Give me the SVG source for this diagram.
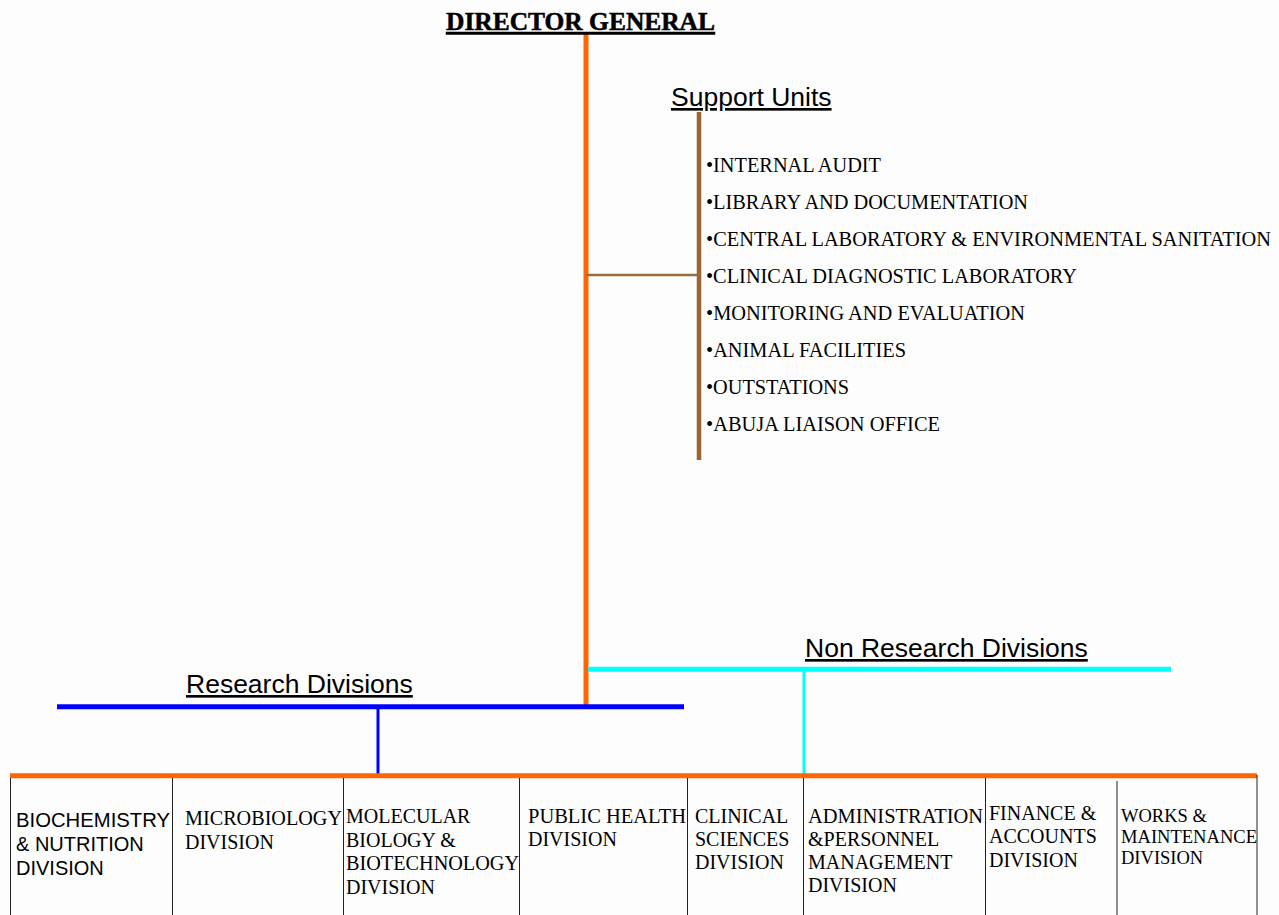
<svg xmlns="http://www.w3.org/2000/svg" width="1279" height="915" viewBox="0 0 1279 915">
<style>
.serif{font-family:"Liberation Serif","Times New Roman",serif;fill:#000}
.sans{font-family:"Liberation Sans",Arial,sans-serif;fill:#000}
.head{font-size:26.5px;text-decoration:underline}
.item{font-size:20px}
.cell{font-size:20px}
.div{stroke:#222;stroke-width:1;fill:none}
</style>
<rect width="1279" height="915" fill="#fdfdfd"/>
<g id="connectors" fill="none">
  <line x1="586" y1="32" x2="586" y2="705" stroke="#ff6600" stroke-width="5"/>
  <line x1="586" y1="275" x2="698" y2="275" stroke="#9a6c40" stroke-width="2.5"/>
  <line x1="699" y1="112" x2="699" y2="460" stroke="#996633" stroke-width="4.5"/>
  <line x1="588" y1="669.3" x2="1171" y2="669.3" stroke="#00ffff" stroke-width="5"/>
  <line x1="804" y1="669" x2="804" y2="774" stroke="#00ffff" stroke-width="3"/>
  <line x1="57" y1="706.8" x2="684" y2="706.8" stroke="#0000ff" stroke-width="5"/>
  <line x1="378" y1="707" x2="378" y2="774" stroke="#0000ff" stroke-width="3"/>
  <line x1="10" y1="775.8" x2="1257" y2="775.8" stroke="#ff6600" stroke-width="5"/>
</g>
<g id="director">
  <text class="serif" x="446" y="30" font-size="25" font-weight="bold" text-decoration="underline" textLength="269" lengthAdjust="spacingAndGlyphs" stroke="#000" stroke-width="0.5">DIRECTOR GENERAL</text>
</g>
<g id="support-units">
  <text class="sans head" x="671" y="106">Support Units</text>
  <g class="serif item">
    <text x="706" y="171.5" textLength="175" lengthAdjust="spacingAndGlyphs">•INTERNAL AUDIT</text>
    <text x="706" y="208.5" textLength="322" lengthAdjust="spacingAndGlyphs">•LIBRARY AND DOCUMENTATION</text>
    <text x="706" y="245.5" textLength="565" lengthAdjust="spacingAndGlyphs">•CENTRAL LABORATORY &amp; ENVIRONMENTAL SANITATION</text>
    <text x="706" y="282.5" textLength="371" lengthAdjust="spacingAndGlyphs">•CLINICAL DIAGNOSTIC LABORATORY</text>
    <text x="706" y="319.5" textLength="319" lengthAdjust="spacingAndGlyphs">•MONITORING AND EVALUATION</text>
    <text x="706" y="356.5" textLength="200" lengthAdjust="spacingAndGlyphs">•ANIMAL FACILITIES</text>
    <text x="706" y="393.5" textLength="143" lengthAdjust="spacingAndGlyphs">•OUTSTATIONS</text>
    <text x="706" y="430.5" textLength="234" lengthAdjust="spacingAndGlyphs">•ABUJA LIAISON OFFICE</text>
  </g>
</g>
<g id="research-divisions">
  <text class="sans head" x="186" y="693">Research Divisions</text>
</g>
<g id="non-research-divisions">
  <text class="sans head" x="805" y="657">Non Research Divisions</text>
</g>
<g id="biochemistry">
  <line class="div" x1="10.5" y1="778" x2="10.5" y2="915"/>
  <text class="sans cell" x="16" y="827"><tspan x="16" textLength="154" lengthAdjust="spacingAndGlyphs">BIOCHEMISTRY</tspan><tspan x="16" y="851">&amp; NUTRITION</tspan><tspan x="16" y="875">DIVISION</tspan></text>
</g>
<g id="microbiology">
  <line class="div" x1="172.5" y1="778" x2="172.5" y2="915"/>
  <text class="serif cell" x="185" y="825"><tspan x="185" textLength="157" lengthAdjust="spacingAndGlyphs">MICROBIOLOGY</tspan><tspan x="185" y="849">DIVISION</tspan></text>
</g>
<g id="molecular-biology">
  <line class="div" x1="343.5" y1="778" x2="343.5" y2="915"/>
  <text class="serif cell" x="346" y="823"><tspan x="346">MOLECULAR</tspan><tspan x="346" y="847">BIOLOGY &amp;</tspan><tspan x="346" y="870" textLength="173" lengthAdjust="spacingAndGlyphs">BIOTECHNOLOGY</tspan><tspan x="346" y="894">DIVISION</tspan></text>
</g>
<g id="public-health">
  <line class="div" x1="519.5" y1="778" x2="519.5" y2="915"/>
  <text class="serif cell" x="528" y="823"><tspan x="528" textLength="158" lengthAdjust="spacingAndGlyphs">PUBLIC HEALTH</tspan><tspan x="528" y="846">DIVISION</tspan></text>
</g>
<g id="clinical-sciences">
  <line class="div" x1="687.5" y1="778" x2="687.5" y2="915"/>
  <text class="serif cell" x="695" y="823"><tspan x="695">CLINICAL</tspan><tspan x="695" y="846">SCIENCES</tspan><tspan x="695" y="869">DIVISION</tspan></text>
</g>
<g id="administration">
  <line class="div" x1="803.5" y1="778" x2="803.5" y2="915"/>
  <text class="serif cell" x="808" y="823"><tspan x="808" textLength="175" lengthAdjust="spacingAndGlyphs">ADMINISTRATION</tspan><tspan x="808" y="846">&amp;PERSONNEL</tspan><tspan x="808" y="869">MANAGEMENT</tspan><tspan x="808" y="892">DIVISION</tspan></text>
</g>
<g id="finance">
  <line class="div" x1="985.5" y1="778" x2="985.5" y2="915"/>
  <text class="serif cell" x="989" y="820"><tspan x="989">FINANCE &amp;</tspan><tspan x="989" y="843">ACCOUNTS</tspan><tspan x="989" y="867">DIVISION</tspan></text>
</g>
<g id="works">
  <line class="div" x1="1117" y1="781" x2="1117" y2="915"/>
  <line class="div" x1="1257" y1="775" x2="1257" y2="915"/>
  <text class="serif" font-size="18.5" x="1121" y="822"><tspan x="1121">WORKS &amp;</tspan><tspan x="1121" y="843" textLength="136" lengthAdjust="spacingAndGlyphs">MAINTENANCE</tspan><tspan x="1121" y="864">DIVISION</tspan></text>
</g>
</svg>
